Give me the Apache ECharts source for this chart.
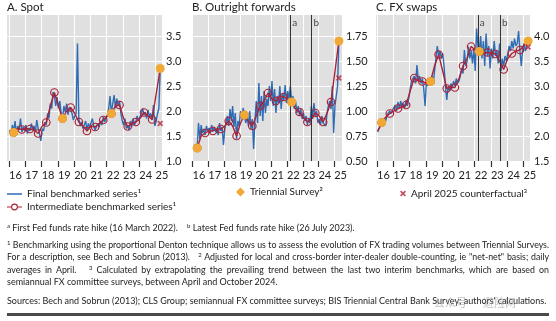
<!DOCTYPE html>
<html><head><meta charset="utf-8">
<script src="https://cdn.jsdelivr.net/npm/echarts@6/dist/echarts.min.js"></script>
<style>
html,body{margin:0;padding:0;background:#fff;}
#wrap{position:relative;width:556px;height:321px;overflow:hidden;font-family:Lato,"Open Sans",sans-serif;color:#222;}
#chart{position:absolute;left:0;top:0;width:556px;height:321px;}
.fn{position:absolute;left:7px;width:542px;font-size:9px;line-height:12px;white-space:nowrap;}
.j{font-size:8.8px;text-align:justify;text-align-last:justify;}
.fn sup{font-size:6px;vertical-align:baseline;position:relative;top:-3px;line-height:0;}
#rule{position:absolute;left:7px;top:313px;width:542px;height:2.5px;background:#4a4a4a;}
#wm{position:absolute;left:434px;top:294px;font-family:"Noto Sans CJK SC",sans-serif;font-size:11px;color:rgba(140,140,140,0.55);}
</style></head>
<body>
<div id="wrap">
<div id="chart"></div>
<div class="fn" style="top:222px"><sup>a</sup> First Fed funds rate hike (16 March 2022).&nbsp;&nbsp;&nbsp; <sup>b</sup> Latest Fed funds rate hike (26 July 2023).</div>
<div class="fn j" style="top:239px"><sup>1</sup> Benchmarking using the proportional Denton technique allows us to assess the evolution of FX trading volumes between Triennial Surveys.</div>
<div class="fn j" style="top:251px">For a description, see Bech and Sobrun (2013).&nbsp;&nbsp; <sup>2</sup> Adjusted for local and cross-border inter-dealer double-counting, ie "net-net" basis; daily</div>
<div class="fn j" style="top:263.5px">averages in April.&nbsp;&nbsp; <sup>3</sup> Calculated by extrapolating the prevailing trend between the last two interim benchmarks, which are based on</div>
<div class="fn" style="top:275.5px">semiannual FX committee surveys, between April and October 2024.</div>
<div class="fn" style="top:295px">Sources: Bech and Sobrun (2013); CLS Group; semiannual FX committee surveys; BIS Triennial Central Bank Survey; authors' calculations.</div>
<div id="wm">公众号 · 避险网</div>
<div id="rule"></div>
</div>
<script>
// ---------- DATA ----------
const startYear = 2016;
const tickYears = [2016, 2017, 2018, 2019, 2020, 2021, 2022, 2023, 2024, 2025];
const yearLabels = ['16', '17', '18', '19', '20', '21', '22', '23', '24', '25'];
const triennialMonths = [3, 39, 75, 111];          // Apr 2016, Apr 2019, Apr 2022, Apr 2025
const counterfactualMonth = 111;                    // Apr 2025
const eventNames = ['a', 'b'];
const eventDates = [2022.2, 2023.56];               // 16 Mar 2022, 26 Jul 2023

const spotTicks = [1.0, 1.5, 2.0, 2.5, 3.0, 3.5];
const fwdTicks = [0.50, 0.75, 1.00, 1.25, 1.50, 1.75];
const swapTicks = [1.5, 2.0, 2.5, 3.0, 3.5, 4.0];

// monthly, Jan 2016 .. Apr 2025
const spotFinal = [
 1.62,1.50,1.72,1.58,1.80,1.55,1.70,1.62,1.85,1.58,1.68,1.60,
 1.72,1.55,1.66,1.60,1.75,1.62,1.70,1.58,1.82,1.65,1.55,1.40,
 1.65,1.60,1.78,1.72,1.95,1.85,2.15,2.05,2.38,2.30,2.10,2.28,
 2.05,2.20,1.95,1.85,2.10,1.98,2.15,1.92,2.08,2.05,1.95,1.82,
 1.90,1.95,3.35,1.85,1.70,1.78,1.65,1.72,1.80,1.62,1.75,1.68,
 1.72,1.85,1.70,1.62,1.58,1.75,1.68,1.80,1.72,1.88,1.78,1.85,
 1.92,2.05,2.30,1.95,2.15,2.32,2.05,2.25,2.10,2.20,1.95,1.80,
 1.72,1.85,1.65,1.70,1.62,1.80,1.68,1.85,1.72,1.78,1.90,1.80,
 1.88,1.95,2.05,1.92,1.98,1.85,2.02,1.88,1.95,1.82,2.12,1.70,
 1.80,1.95,2.05,2.85];
// quarterly (Jan, Apr, Jul, Oct) 2016..2024, then Apr 2025
const spotInterim = [
 1.60,1.57,1.65,1.63, 1.65,1.64,1.62,1.55, 1.70,1.77,2.10,2.37,
 2.10,1.85,2.00,2.07, 1.95,1.78,1.70,1.60, 1.70,1.68,1.75,1.82,
 1.90,1.95,2.10,2.12, 1.85,1.69,1.75,1.78, 1.85,1.97,1.90,1.83, 2.85];
const spotTriennial = [1.57, 1.85, 1.95, 2.85];
const spotCounterfactual = 1.75;

const fwdFinal = [
 0.62,0.66,0.60,0.64,0.88,0.72,0.86,0.78,0.82,0.76,0.85,0.80,
 0.83,0.78,0.86,0.80,0.84,0.79,0.82,0.76,0.88,0.80,0.84,0.66,
 0.82,0.88,0.95,0.85,1.02,0.90,1.05,0.84,0.98,0.72,0.90,0.85,
 1.00,0.92,1.03,0.96,0.88,0.95,0.85,1.00,0.82,0.92,0.62,0.90,
 1.10,0.88,1.28,0.95,1.15,0.90,1.20,0.98,1.12,1.05,1.25,1.10,
 1.30,1.05,1.22,0.98,1.15,1.08,1.25,1.02,1.18,1.10,1.26,1.08,
 1.20,1.12,1.25,1.09,1.15,1.02,1.10,0.98,1.05,0.95,1.02,0.92,
 0.98,0.90,0.95,0.86,0.92,0.88,1.05,0.92,1.08,0.95,1.00,0.88,
 0.92,0.86,0.95,0.88,0.90,0.85,0.98,1.05,1.10,1.02,1.25,0.78,
 1.05,1.15,1.25,1.70];
const fwdInterim = [
 0.62,0.63,0.75,0.78, 0.80,0.80,0.82,0.82, 0.85,0.90,0.85,0.75,
 0.88,0.96,0.90,0.85, 0.95,1.05,1.10,1.18, 1.12,1.10,1.15,1.14,
 1.12,1.09,1.02,0.99, 0.93,0.89,0.92,0.98, 0.95,0.89,0.98,1.09, 1.70];
const fwdTriennial = [0.63, 0.96, 1.09, 1.70];
const fwdCounterfactual = 1.33;

const swapFinal = [
 2.08,2.12,2.20,2.27,2.25,2.35,2.30,2.42,2.38,2.50,2.45,2.52,
 2.48,2.62,2.50,2.68,2.55,2.70,2.58,2.65,2.56,2.72,2.60,2.75,
 2.95,3.10,3.15,3.20,3.05,3.42,3.12,3.20,3.05,3.15,2.95,2.60,
 3.10,3.00,3.15,3.09,3.20,3.05,3.30,3.55,3.80,3.60,3.70,3.55,
 3.65,3.40,3.00,2.72,3.00,2.90,3.05,2.95,3.10,3.00,3.15,3.05,
 3.10,3.20,3.35,3.25,3.72,3.40,3.50,3.79,3.55,3.70,3.45,3.75,
 3.30,4.15,3.80,3.69,4.00,3.55,3.90,3.40,4.05,3.60,3.80,3.35,
 3.75,3.55,3.90,3.60,3.70,3.45,3.85,3.30,3.55,3.40,3.60,3.50,
 3.65,3.80,3.70,3.90,3.75,3.95,3.80,3.85,4.10,3.70,3.40,3.75,
 3.85,3.70,3.80,3.90];
const swapInterim = [
 2.10,2.27,2.38,2.45, 2.50,2.55,2.58,2.62, 2.90,3.16,3.10,3.09,
 3.05,3.09,3.40,3.63, 3.30,2.95,2.98,2.97, 3.15,3.40,3.55,3.79,
 3.72,3.69,3.65,3.67, 3.66,3.64,3.50,3.33, 3.55,3.65,3.70,3.72, 3.90];
const swapTriennial = [2.27, 3.09, 3.69, 3.90];
const swapCounterfactual = 3.78;

// ---------- BUILD ----------
const FONT = 'Lato, "Open Sans", sans-serif';
const BLUE = '#2f6cb3', RED = '#a82338', ORANGE = '#f0a836', XRED = '#b3263a', BG = '#e0e0e0';
const NAME_FINAL = 'Final benchmarked series¹';
const NAME_INT = 'Intermediate benchmarked series¹';
const NAME_TRI = 'Triennial Survey²';
const NAME_CF = 'April 2025 counterfactual³';
const XPATH = 'path://M2,0 L5,3 L8,0 L10,2 L7,5 L10,8 L8,10 L5,7 L2,10 L0,8 L3,5 L0,2 Z';
const LINE_ICON = 'path://M0,0 L16,0 L16,1.6 L0,1.6 Z';
const INT_ICON = 'path://M0,3.9 L4.3,3.9 L4.3,5.1 L0,5.1 Z M11.7,3.9 L16,3.9 L16,5.1 L11.7,5.1 Z ' +
  'M4.3,4.5 A3.7,3.7 0 1,0 11.7,4.5 A3.7,3.7 0 1,0 4.3,4.5 Z M5.5,4.5 A2.5,2.5 0 1,1 10.5,4.5 A2.5,2.5 0 1,1 5.5,4.5 Z';

const mx = m => startYear + (m + 0.5) / 12;
const interimMonths = spotInterim.map((v, i) => i < spotInterim.length - 1 ? i * 3 : 111);

const panels = [
 {title:'A. Spot', left:7, width:155, xMin:2015.88, xMax:2025.40, yMin:1.0, yMax:3.92, ticks:spotTicks, dec:1,
  final:spotFinal, interim:spotInterim, tri:spotTriennial, cf:spotCounterfactual, events:false},
 {title:'B. Outright forwards', left:192, width:150, xMin:2015.96, xMax:2025.49, yMin:0.5, yMax:1.96, ticks:fwdTicks, dec:2,
  final:fwdFinal, interim:fwdInterim, tri:fwdTriennial, cf:fwdCounterfactual, events:true},
 {title:'C. FX swaps', left:376, width:154, xMin:2015.94, xMax:2025.41, yMin:1.5, yMax:4.42, ticks:swapTicks, dec:1,
  final:swapFinal, interim:swapInterim, tri:swapTriennial, cf:swapCounterfactual, events:true}
];

const option = {
  backgroundColor:'#fff', animation:false,
  textStyle:{fontFamily:FONT},
  title:[], grid:[], xAxis:[], yAxis:[], series:[],
  legend:[
    {left:7, top:189, orient:'vertical', itemGap:3, itemWidth:15, itemHeight:9, padding:0,
     textStyle:{fontSize:10, color:'#222', fontFamily:FONT}, selectedMode:false,
     data:[{name:NAME_FINAL, icon:LINE_ICON, itemStyle:{color:BLUE, borderWidth:0}},
           {name:NAME_INT, icon:INT_ICON, itemStyle:{color:RED, borderWidth:0}}]},
    {left:236, top:187, itemWidth:9, itemHeight:9, padding:0, itemGap:0,
     textStyle:{fontSize:10, color:'#222', fontFamily:FONT}, data:[{name:NAME_TRI, icon:'diamond'}], selectedMode:false},
    {left:400, top:188.5, itemWidth:6, itemHeight:6, padding:0,
     textStyle:{fontSize:10, color:'#222', fontFamily:FONT}, data:[{name:NAME_CF, icon:XPATH}], selectedMode:false}
  ]
};

panels.forEach((p, i) => {
  option.title.push({text:p.title, left:p.left, top:1, padding:0,
    textStyle:{fontSize:11.5, fontWeight:'normal', color:'#222', fontFamily:FONT}});
  option.grid.push({left:p.left, top:15, width:p.width, height:146, show:true, backgroundColor:BG, borderWidth:0});
  option.xAxis.push({type:'value', gridIndex:i, min:p.xMin, max:p.xMax,
    axisLine:{show:false},
    axisTick:{show:true, customValues:tickYears, length:6, lineStyle:{color:'#333', width:1.2}},
    axisLabel:{customValues:tickYears.map(y => y + 0.4), margin:9, fontSize:11, color:'#222', fontFamily:FONT,
      formatter:v => yearLabels[tickYears.indexOf(Math.floor(v))]},
    splitLine:{show:true, lineStyle:{color:'#fff', width:1}}});
  option.yAxis.push({type:'value', gridIndex:i, position:'right', min:p.yMin, max:p.yMax,
    axisLine:{show:false},
    axisTick:{show:false, customValues:p.ticks},
    axisLabel:{customValues:p.ticks, margin:4, fontSize:11, color:'#222', fontFamily:FONT,
      formatter:v => v.toFixed(p.dec)},
    splitLine:{show:true, lineStyle:{color:'#fff', width:1}}});
  option.series.push({name:NAME_FINAL, type:'line', xAxisIndex:i, yAxisIndex:i, symbol:'none', z:2,
    lineStyle:{color:BLUE, width:1.4}, itemStyle:{color:BLUE},
    data:p.final.map((v, m) => [mx(m), v])});
  const circleFlags = interimMonths.map(m => (m % 12 === 3 || m % 12 === 9) && m < 111);
  option.series.push({name:NAME_INT, type:'line', xAxisIndex:i, yAxisIndex:i, symbol:'circle', z:3,
    symbolSize:(val, params) => circleFlags[params.dataIndex] ? 7.5 : 0,
    showAllSymbol:true,
    lineStyle:{color:RED, width:1.4}, itemStyle:{color:'rgba(0,0,0,0)', borderColor:RED, borderWidth:1.2},
    data:p.interim.map((v, k) => [mx(interimMonths[k]), v])});
  option.series.push({name:NAME_TRI, type:'scatter', xAxisIndex:i, yAxisIndex:i, symbol:'circle', symbolSize:9, z:5,
    itemStyle:{color:ORANGE, opacity:1},
    data:p.tri.map((v, k) => [mx(triennialMonths[k]), v])});
  option.series.push({name:NAME_CF, type:'scatter', xAxisIndex:i, yAxisIndex:i, symbol:XPATH, symbolSize:6, z:6,
    itemStyle:{color:XRED},
    data:[[mx(counterfactualMonth), p.cf]]});
  if (p.events) {
    const yLab = p.yMax - (p.yMax - p.yMin) * 0.055;
    option.series.push({name:'events', type:'scatter', xAxisIndex:i, yAxisIndex:i, symbolSize:0, z:7,
      label:{show:true, position:'right', distance:2, formatter:d => d.name, fontSize:10, color:'#222', fontFamily:FONT},
      data:eventNames.map((n, k) => ({name:n, value:[eventDates[k], yLab]})),
      markLine:{silent:true, symbol:['none','none'], label:{show:false},
        lineStyle:{color:'#333', width:1, type:'solid'},
        data:eventDates.map(d => ({xAxis:d}))}});
  }
});

const chart = echarts.init(document.getElementById('chart'), null, {renderer:'canvas'});
chart.setOption(option);
</script>
</body></html>
